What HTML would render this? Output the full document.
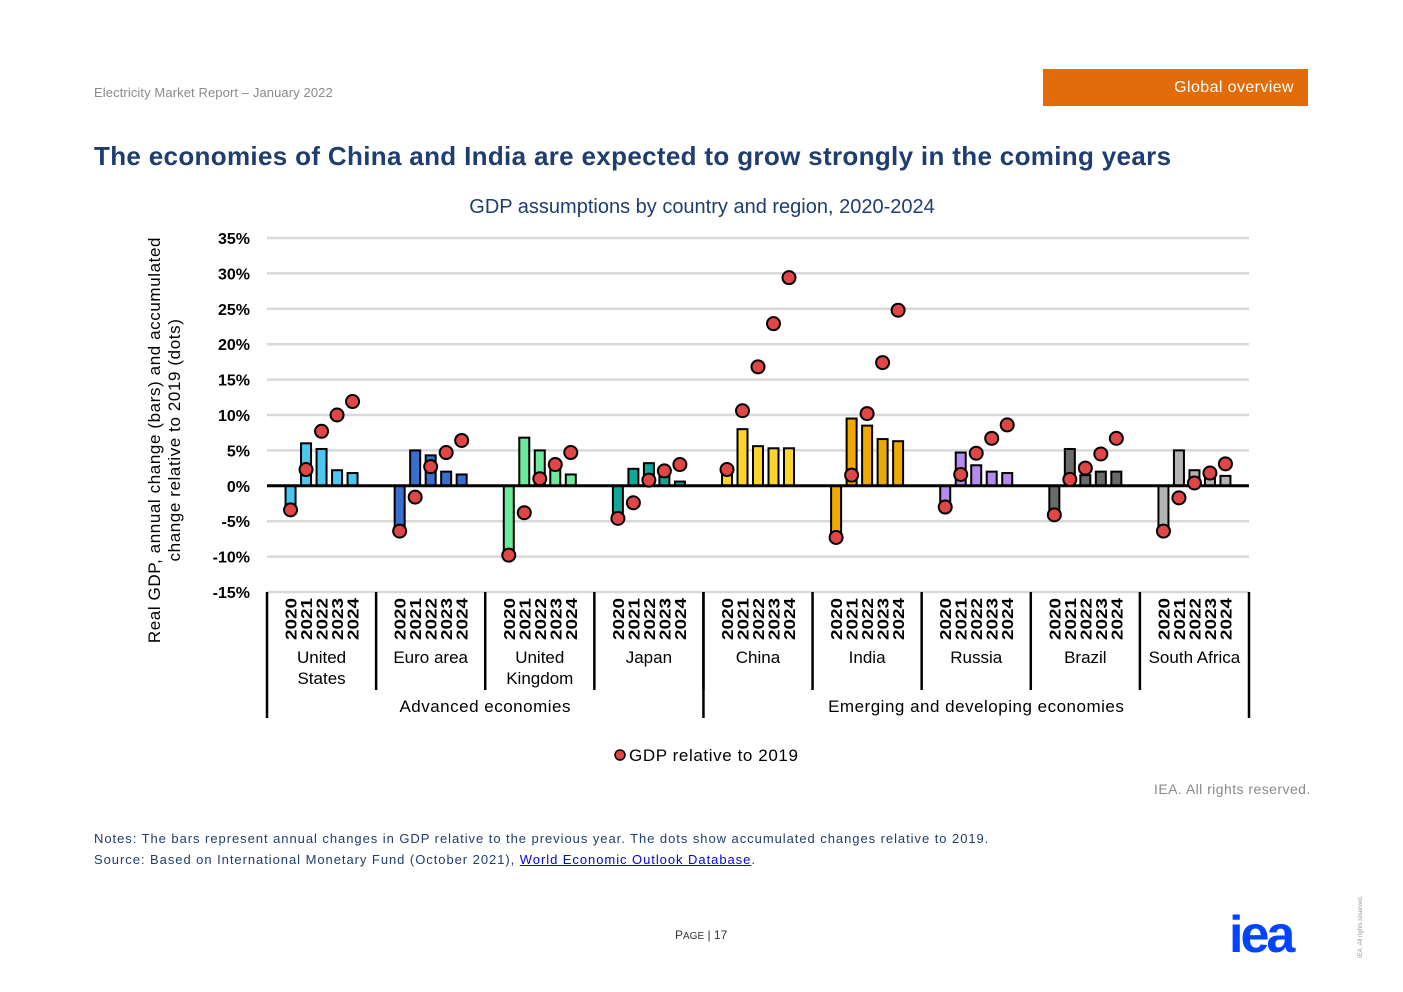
<!DOCTYPE html>
<html><head><meta charset="utf-8"><style>
body{margin:0;background:#fff;font-family:"Liberation Sans",sans-serif;}
.pg{position:relative;width:1403px;height:992px;overflow:hidden;}
.abs{position:absolute;white-space:nowrap;}
</style></head><body>
<div class="pg">
<div class="abs" style="left:94px;top:85px;font-size:13px;color:#8a8a8a;letter-spacing:0.1px;">Electricity Market Report – January 2022</div>
<div class="abs" style="left:1043px;top:69px;width:265px;height:37px;background:#e36c0a;color:#fff;font-size:16px;letter-spacing:0.4px;line-height:37px;text-align:right;box-sizing:border-box;padding-right:14px;">Global overview</div>
<div class="abs" style="left:94px;top:141px;font-size:26px;font-weight:bold;color:#1f3d6e;letter-spacing:0.33px;">The economies of China and India are expected to grow strongly in the coming years</div>
<svg class="abs" style="left:0;top:0" width="1403" height="992" id="chart"></svg>
<div class="abs" style="left:1154px;top:781px;font-size:14px;color:#8a8a8a;letter-spacing:0.45px;">IEA. All rights reserved.</div>
<div class="abs" style="left:94px;top:828px;font-size:13px;color:#1f3d6e;line-height:21px;letter-spacing:0.95px;">Notes: The bars represent annual changes in GDP relative to the previous year. The dots show accumulated changes relative to 2019.<br>Source: Based on International Monetary Fund (October 2021), <a style="color:#0000ee;text-decoration:underline;">World Economic Outlook Database</a>.</div>
<div class="abs" style="left:675px;top:928px;font-size:12px;color:#333;">P<span style="font-size:10px">AGE</span> | 17</div>
<div class="abs" style="left:1229px;top:905px;font-size:52px;font-weight:bold;color:#0044ff;letter-spacing:-3px;line-height:60px;">iea</div>
<div class="abs" style="left:1358px;top:958px;font-size:6px;color:#999;transform:rotate(-90deg);transform-origin:0 0;">IEA. All rights reserved.</div>
</div>
<script>
const categories=["United States","Euro area","United Kingdom","Japan","China","India","Russia","Brazil","South Africa"];
const years=["2020","2021","2022","2023","2024"];
const barValues=[
[-3.4,6.0,5.2,2.2,1.8],
[-6.4,5.0,4.3,2.0,1.6],
[-9.8,6.8,5.0,2.2,1.6],
[-4.6,2.4,3.2,1.4,0.6],
[2.3,8.0,5.6,5.3,5.3],
[-7.3,9.5,8.5,6.6,6.3],
[-3.0,4.7,2.9,2.0,1.8],
[-4.1,5.2,1.5,2.0,2.0],
[-6.4,5.0,2.2,1.4,1.4]];
const dotValues=[
[-3.4,2.3,7.7,10.0,11.9],
[-6.4,-1.6,2.7,4.7,6.4],
[-9.8,-3.8,1.0,3.0,4.7],
[-4.6,-2.4,0.8,2.1,3.0],
[2.3,10.6,16.8,22.9,29.4],
[-7.3,1.5,10.2,17.4,24.8],
[-3.0,1.6,4.6,6.7,8.6],
[-4.1,0.9,2.5,4.5,6.7],
[-6.4,-1.7,0.4,1.8,3.1]];
const ticks=[35,30,25,20,15,10,5,0,-5,-10,-15];
const colors=["#4cc8f0","#3a6fd0","#6ee89a","#12a696","#ffd42a","#eeaa00","#b48cef","#6b6b6b","#b3b3b3"];
const groups=[["Advanced economies",0,4],["Emerging and developing economies",4,9]];

const svg=document.getElementById('chart');
const NS="http://www.w3.org/2000/svg";
const X0=267,X1=1249,YT=238,YB=592,VMAX=35,VMIN=-15;
const gw=(X1-X0)/categories.length, sp=15.5;
function y(v){return YT+(VMAX-v)*(YB-YT)/(VMAX-VMIN);}
function x(g,i){return X0+g*gw+gw/2+(i-2)*sp;}
function mk(t,a,txt){const e=document.createElementNS(NS,t);for(const k in a)e.setAttribute(k,a[k]);if(txt!==undefined)e.textContent=txt;svg.appendChild(e);return e;}
let e;
e=mk('text',{x:702,y:213,'text-anchor':'middle','font-size':20,fill:'#1f3d6e','font-family':'Liberation Sans'},'GDP assumptions by country and region, 2020-2024');


ticks.forEach(t=>{
 if(t!==0){e=mk('line',{x1:X0,x2:X1,y1:y(t),y2:y(t),stroke:'#d9d9d9','stroke-width':2.5});
 
 }
 e=mk('text',{x:250,y:y(t)+6,'text-anchor':'end','font-size':16,'font-weight':'bold',fill:'#000','font-family':'Liberation Sans'},t+'%');
 
 
});
e=mk('text',{transform:'translate(160,440) rotate(-90)','text-anchor':'middle','font-size':17,fill:'#000','font-family':'Liberation Sans','letter-spacing':'0.6'});


e.innerHTML='<tspan x="0" dy="0">Real GDP, annual change (bars) and accumulated</tspan><tspan x="0" dy="20">change relative to 2019 (dots)</tspan>';
categories.forEach((c,g)=>{
 barValues[g].forEach((v,i)=>{
  const cx=x(g,i);
  e=mk('rect',{x:cx-5,y:Math.min(y(v),y(0)),width:10,height:Math.abs(y(v)-y(0)),fill:colors[g],stroke:'#000','stroke-width':2});
  
  
 });
});
e=mk('line',{x1:X0,x2:X1,y1:y(0),y2:y(0),stroke:'#000','stroke-width':3});


categories.forEach((c,g)=>{
 dotValues[g].forEach((v,i)=>{
  e=mk('circle',{cx:x(g,i),cy:y(v),r:6.5,fill:'#e04646',stroke:'#000','stroke-width':2});
  
  
 });
 years.forEach((yr,i)=>{
  e=mk('text',{transform:`translate(${x(g,i)+6},640) rotate(-90)`,'font-size':16,'font-weight':'bold',fill:'#000','font-family':'Liberation Sans',textLength:42,lengthAdjust:'spacingAndGlyphs'},yr);
  
  
 });
 const parts=c==="United States"?["United","States"]:c==="United Kingdom"?["United","Kingdom"]:[c];
 parts.forEach((p,k)=>{
  e=mk('text',{x:X0+g*gw+gw/2,y:663+k*21,'text-anchor':'middle','font-size':17,fill:'#000','font-family':'Liberation Sans'},p);
  
  
 });
 if(g>0){e=mk('line',{x1:X0+g*gw,x2:X0+g*gw,y1:592,y2:690,stroke:'#000','stroke-width':2.5});
 
 }
});
groups.forEach(gr=>{
 e=mk('text',{x:X0+(gr[1]+gr[2])/2*gw,y:712,'text-anchor':'middle','font-size':17,fill:'#000','font-family':'Liberation Sans','letter-spacing':'0.5'},gr[0]);
 
 
});
[0,4,9].forEach(k=>{
 e=mk('line',{x1:X0+k*gw,x2:X0+k*gw,y1:592,y2:718,stroke:'#000','stroke-width':2.5});
 
 
});
e=mk('circle',{cx:620,cy:755,r:5,fill:'#e04646',stroke:'#000','stroke-width':1.5});


e=mk('text',{x:629,y:761,'font-size':17,fill:'#000','font-family':'Liberation Sans','letter-spacing':'0.6'},'GDP relative to 2019');


</script>
</body></html>
